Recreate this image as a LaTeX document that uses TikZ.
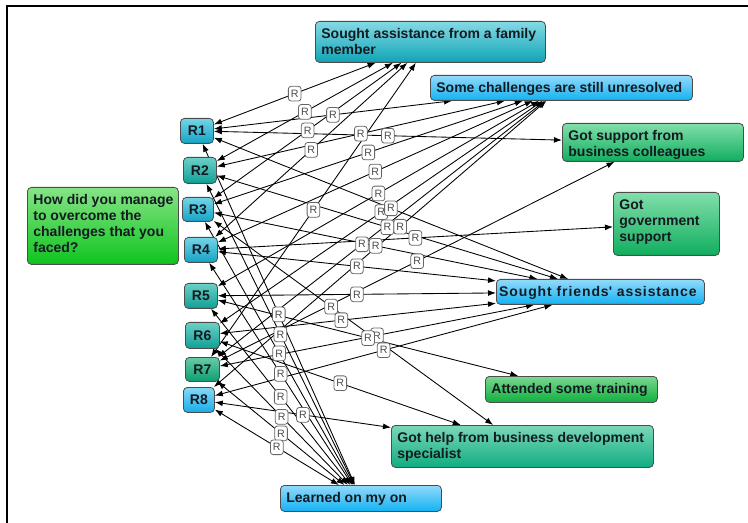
\documentclass[tikz,border=0pt]{standalone}
\usepackage{fontspec}
\setmainfont{Liberation Sans}
\usetikzlibrary{arrows.meta}
\pgfdeclarelayer{edgelayer}
\pgfdeclarelayer{lablayer}
\pgfsetlayers{edgelayer,lablayer,main}
\definecolor{qT}{HTML}{86E486}\definecolor{qB}{HTML}{0EC41E}
\definecolor{famT}{HTML}{84DAE4}\definecolor{famB}{HTML}{10A4B6}
\definecolor{bluT}{HTML}{92DAFA}\definecolor{bluB}{HTML}{12B2F2}
\definecolor{grnT}{HTML}{82DEAA}\definecolor{grnB}{HTML}{10AE5E}
\definecolor{trnT}{HTML}{78D890}\definecolor{trnB}{HTML}{10B03E}
\definecolor{bdsT}{HTML}{7AD8B6}\definecolor{bdsB}{HTML}{10AC82}
\definecolor{rcT}{HTML}{74D4E6}\definecolor{rcB}{HTML}{14A4C6}
\definecolor{rtT}{HTML}{6CD0C6}\definecolor{rtB}{HTML}{10A096}
\definecolor{rgT}{HTML}{66CCA6}\definecolor{rgB}{HTML}{0E9E72}
\definecolor{rbT}{HTML}{88D8F6}\definecolor{rbB}{HTML}{16AEE8}
\definecolor{txt}{HTML}{141A22}
\tikzset{
  grad/.style 2 args={top color=#1,bottom color=#2},
  box/.style={draw=black!70,line width=0.6pt,rounded corners=3pt,anchor=north west,
    inner xsep=4.5pt,inner ysep=4.5pt,text=txt,font=\bfseries\fontsize{10.5pt}{12pt}\selectfont},
  rbox/.style={draw=black!70,line width=0.6pt,rounded corners=3pt,anchor=north west,
    inner sep=0pt,text=txt,font=\bfseries\fontsize{10.5pt}{12pt}\selectfont},
  conn/.style={>={Latex[length=6pt,width=4.4pt]},<->,line width=0.65pt,draw=black},
  rlab/.style={draw=black!60,line width=0.6pt,fill=white,rounded corners=2pt,inner sep=0pt,
    minimum width=9.5pt,minimum height=11pt,font=\fontsize{8pt}{8pt}\selectfont,text=black!70},
  frameline/.style={line width=1.2pt,draw=black}
}
\newcommand{\themebox}[7]{%
  \node[box,#6,minimum width=#4*0.75pt,minimum height=#5*0.75pt] (#1) at (#2,#3)
  {\parbox[c][\dimexpr 0.75pt*#5-9pt\relax][t]{\dimexpr 0.75pt*#4-9pt\relax}{%
    \begin{tabular}[t]{@{}l@{}}#7\end{tabular}}};}
\newcommand{\rnode}[6]{%
  \node[rbox,#6,minimum width=#4*0.75pt,minimum height=#5*0.75pt] (#1) at (#2,#3) {\MakeUppercase{#1}};}
\newcommand{\addlink}[3][0.5]{%
  \begin{pgfonlayer}{edgelayer}\draw[conn] (#2) -- (#3);\end{pgfonlayer}%
  \begin{pgfonlayer}{lablayer}\path (#2) -- node[rlab,pos=#1] (lab-#2-#3) {R} (#3);\end{pgfonlayer}}
\begin{document}
\begin{tikzpicture}[x=0.75pt,y=-0.75pt]
\useasboundingbox (0,0) rectangle (748,523);
\draw[frameline] (7,523) -- (7,6) -- (748,6);

% question
\themebox{q}{27}{187}{151}{77}{grad={qT}{qB}}{How did you manage\\to overcome the\\challenges that you\\faced?}

% respondents
\rnode{r1}{180}{118}{33}{25}{grad={rcT}{rcB}}
\rnode{r2}{183}{157}{33}{26}{grad={rtT}{rtB}}
\rnode{r3}{182}{197}{31}{24}{grad={rcT}{rcB}}
\rnode{r4}{184}{237}{33}{25}{grad={rcT}{rcB}}
\rnode{r5}{184}{283}{33}{25}{grad={rtT}{rtB}}
\rnode{r6}{185}{322}{34}{26}{grad={rtT}{rtB}}
\rnode{r7}{185}{357}{34}{24}{grad={rgT}{rgB}}
\rnode{r8}{183}{387}{31}{25}{grad={rbT}{rbB}}

% themes
\themebox{fam}{315}{21}{230}{41}{grad={famT}{famB}}{Sought assistance from a family\\member}
\themebox{unres}{430}{75}{262}{25}{grad={bluT}{bluB}}{Some challenges are still unresolved}
\themebox{coll}{562}{123}{181}{38}{grad={grnT}{grnB}}{Got support from\\business colleagues}
\themebox{gov}{613}{192}{106}{63}{grad={grnT}{grnB}}{Got\\government\\support}
\node[box,grad={bluT}{bluB},minimum width=208*0.75pt,minimum height=25*0.75pt,inner xsep=2pt] (friends) at (496,279)
  {\parbox[c][\dimexpr 0.75pt*25-9pt\relax][t]{\dimexpr 0.75pt*208-4pt\relax}{%
   \begin{tabular}[t]{@{}l@{}}\addfontfeature{LetterSpace=6.5}Sought friends\textquotesingle{} assistance\end{tabular}}};
\themebox{train}{485}{376}{172}{26}{grad={trnT}{trnB}}{Attended some training}
\themebox{bds}{391}{425}{262}{42}{grad={bdsT}{bdsB}}{Got help from business development\\specialist}
\themebox{learn}{280}{485}{161}{26}{grad={bluT}{bluB}}{Learned on my on}

% links
\addlink{r1}{fam}\addlink{r2}{fam}\addlink{r3}{fam}\addlink{r4}{fam}\addlink{r7}{fam}
\addlink{r1}{unres}\addlink{r2}{unres}\addlink{r3}{unres}\addlink{r4}{unres}
\addlink{r5}{unres}\addlink{r6}{unres}\addlink[0.44]{r7}{unres}\addlink[0.56]{r8}{unres}
\addlink{r1}{coll}\addlink{r7}{coll}
\addlink{r4}{gov}
\addlink{r1}{friends}\addlink{r2}{friends}\addlink{r3}{friends}\addlink{r4}{friends}
\addlink{r5}{friends}\addlink[0.44]{r6}{friends}\addlink{r7}{friends}\addlink{r8}{friends}
\addlink{r5}{train}
\addlink[0.42]{r3}{bds}\addlink{r6}{bds}\addlink{r8}{bds}
\addlink{r1}{learn}\addlink{r2}{learn}\addlink{r3}{learn}\addlink{r4}{learn}
\addlink{r5}{learn}\addlink{r6}{learn}\addlink{r7}{learn}\addlink{r8}{learn}
\end{tikzpicture}
\end{document}
